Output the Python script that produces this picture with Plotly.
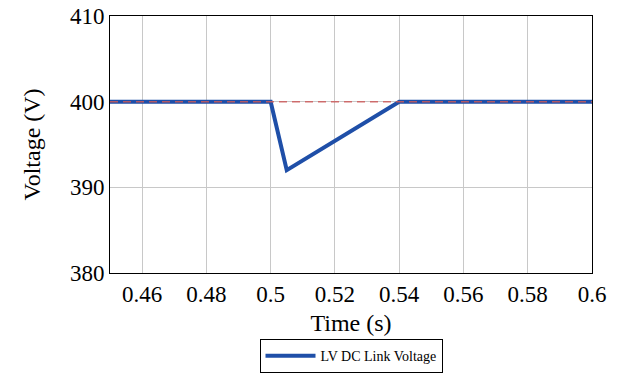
import plotly.graph_objects as go

time_s = [0.45, 0.50, 0.505, 0.54, 0.60]
voltage_v = [400, 400, 392, 400, 400]
ref_time = [0.45, 0.60]
ref_voltage = [400, 400]
x_ticks = [0.46, 0.48, 0.5, 0.52, 0.54, 0.56, 0.58, 0.6]
x_tick_labels = ["0.46", "0.48", "0.5", "0.52", "0.54", "0.56", "0.58", "0.6"]
y_ticks = [380, 390, 400, 410]

FONT = "Liberation Serif"

fig = go.Figure()
fig.add_trace(go.Scatter(x=time_s, y=voltage_v, mode="lines",
                         line=dict(color="#1f4fa8", width=4),
                         name="LV DC Link Voltage"))
fig.add_trace(go.Scatter(x=ref_time, y=ref_voltage, mode="lines",
                         line=dict(color="rgba(205,90,90,0.85)", width=1.5, dash="8px,5px"),
                         showlegend=False))

fig.update_layout(
    width=621, height=377,
    margin=dict(l=110, r=29, t=16, b=104, autoexpand=False),
    plot_bgcolor="white", paper_bgcolor="white",
    font=dict(family=FONT, size=23, color="black"),
    showlegend=True,
    legend=dict(x=0.5, xanchor="center", y=-0.257, yanchor="top",
                orientation="h", bordercolor="black", borderwidth=1,
                itemwidth=50,
                font=dict(family=FONT, size=14), bgcolor="white"),
    xaxis=dict(range=[0.45, 0.6], tickvals=x_ticks, ticktext=x_tick_labels,
               showgrid=True, gridcolor="#c8c8c8", gridwidth=1,
               showline=True, linecolor="black", linewidth=1, mirror=True,
               ticks="", zeroline=False, automargin=False,
               title=dict(text="Time (s)", standoff=8, font=dict(family=FONT, size=24)),
               tickfont=dict(family=FONT, size=23)),
    yaxis=dict(range=[380, 410], tickvals=y_ticks,
               showgrid=True, gridcolor="#c8c8c8", gridwidth=1,
               showline=True, linecolor="black", linewidth=1, mirror=True,
               ticks="", zeroline=False, automargin=False,
               title=dict(text="Voltage (V)", standoff=22, font=dict(family=FONT, size=24)),
               tickfont=dict(family=FONT, size=23)),
)

fig.write_html("out.html", config={"displayModeBar": False},
               post_script="document.body.style.margin='0';document.body.style.padding='0';")
